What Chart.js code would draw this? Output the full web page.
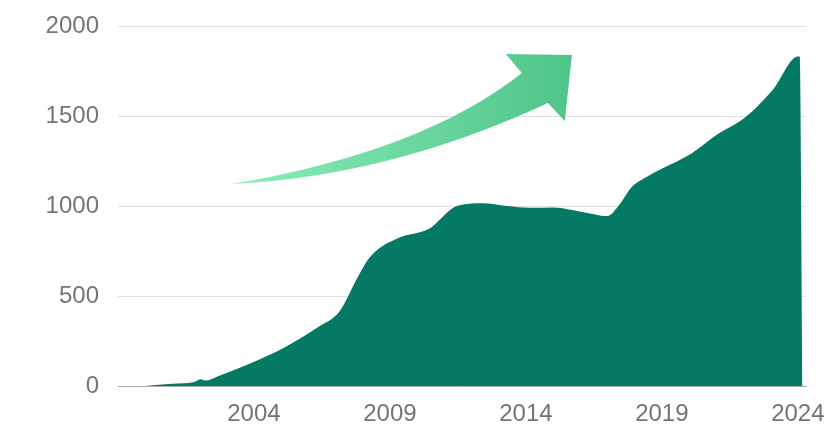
<!DOCTYPE html>
<html>
<head>
<meta charset="utf-8">
<script src="https://cdn.jsdelivr.net/npm/chart.js@4.4.1/dist/chart.umd.min.js"></script>
<style>
  html, body { margin: 0; padding: 0; background: #fff; }
  #wrap { width: 832px; height: 440px; }
</style>
</head>
<body>
<div id="wrap"><canvas id="chart" width="832" height="440"></canvas></div>
<script>
// Data
const years = [2000.0, 2001.0, 2001.8, 2002.05, 2002.2, 2002.7, 2003.9, 2005.1, 2006.35, 2007.15, 2007.8, 2008.26,
  2009.37, 2010.1, 2010.47, 2011.3, 2011.6, 2012.4, 2013.3, 2014.15, 2015.0, 2015.7, 2016.35, 2017.0, 2017.4,
  2017.9, 2018.45, 2020.1, 2021.1, 2021.85, 2022.5, 2023.1, 2024.0, 2024.07, 2024.17];
const values = [0, 12, 22, 37, 30, 56, 128, 213, 326, 415, 600, 715,
  826, 854, 876, 987, 1005, 1015, 1000, 990, 992, 978, 959, 944, 1000,
  1107, 1163, 1293, 1404, 1469, 1552, 1650, 1830, 1830, 0];
const xTicks = [2004, 2009, 2014, 2019, 2024];
const yTicks = [0, 500, 1000, 1500, 2000];

// Arrow decoration, in data units (year, value)
const arrowTail = [2003.19, 1122];
const arrowTopCtrl = [2010.21, 1303];
const arrowTopNotch = [2013.85, 1739];
const arrowHeadLeft = [2013.26, 1844];
const arrowTip = [2015.69, 1839];
const arrowHeadBottom = [2015.43, 1472];
const arrowBottomNotch = [2014.81, 1572];
const arrowBottomCtrl = [2009.0, 1164];

const arrowPlugin = {
  id: 'arrow',
  beforeDatasetsDraw(chart) {
    const { ctx, scales: { x, y } } = chart;
    const p = pt => [x.getPixelForValue(pt[0]), y.getPixelForValue(pt[1])];
    const t = p(arrowTail), tc = p(arrowTopCtrl), tn = p(arrowTopNotch), hl = p(arrowHeadLeft);
    const tip = p(arrowTip), hb = p(arrowHeadBottom), bn = p(arrowBottomNotch), bc = p(arrowBottomCtrl);
    const g = ctx.createLinearGradient(t[0], 0, tip[0], 0);
    g.addColorStop(0, '#8AEEBA');
    g.addColorStop(1, '#50C489');
    ctx.save();
    ctx.fillStyle = g;
    ctx.beginPath();
    ctx.moveTo(t[0], t[1]);
    ctx.quadraticCurveTo(tc[0], tc[1], tn[0], tn[1]);
    ctx.lineTo(hl[0], hl[1]);
    ctx.lineTo(tip[0], tip[1]);
    ctx.lineTo(hb[0], hb[1]);
    ctx.lineTo(bn[0], bn[1]);
    ctx.quadraticCurveTo(bc[0], bc[1], t[0], t[1]);
    ctx.closePath();
    ctx.fill();
    ctx.restore();
  }
};

const tickFont = { family: '"Liberation Sans", Arial, sans-serif', size: 24 };

new Chart(document.getElementById('chart'), {
  type: 'line',
  data: {
    datasets: [{
      data: years.map((yr, i) => ({ x: yr, y: values[i] })),
      fill: 'origin',
      backgroundColor: '#047A64',
      borderWidth: 0,
      pointRadius: 0,
      cubicInterpolationMode: 'monotone'
    }]
  },
  options: {
    responsive: false,
    animation: false,
    layout: { padding: { top: 26, right: 26, bottom: 0, left: 0 } },
    plugins: { legend: { display: false }, tooltip: { enabled: false } },
    scales: {
      x: {
        type: 'linear',
        min: 1999,
        max: 2024.3,
        afterBuildTicks: s => { s.ticks = xTicks.map(v => ({ value: v })); },
        afterFit: s => { s.height = 54; s.paddingLeft = 0; s.paddingRight = 0; },
        grid: { display: false, drawTicks: false },
        border: { color: '#aaaaaa', width: 1 },
        ticks: { font: tickFont, color: '#757575', padding: 14, maxRotation: 0, autoSkip: false, callback: v => String(v) }
      },
      y: {
        min: 0,
        max: 2000,
        afterBuildTicks: s => { s.ticks = yTicks.map(v => ({ value: v })); },
        afterFit: s => { s.width = 118; s.paddingTop = 0; s.paddingBottom = 0; },
        grid: { color: '#e0e0e0', lineWidth: 1, drawTicks: false },
        border: { display: false },
        ticks: { font: tickFont, color: '#757575', padding: 19, callback: v => String(v) }
      }
    }
  },
  plugins: [arrowPlugin]
});
</script>
</body>
</html>
